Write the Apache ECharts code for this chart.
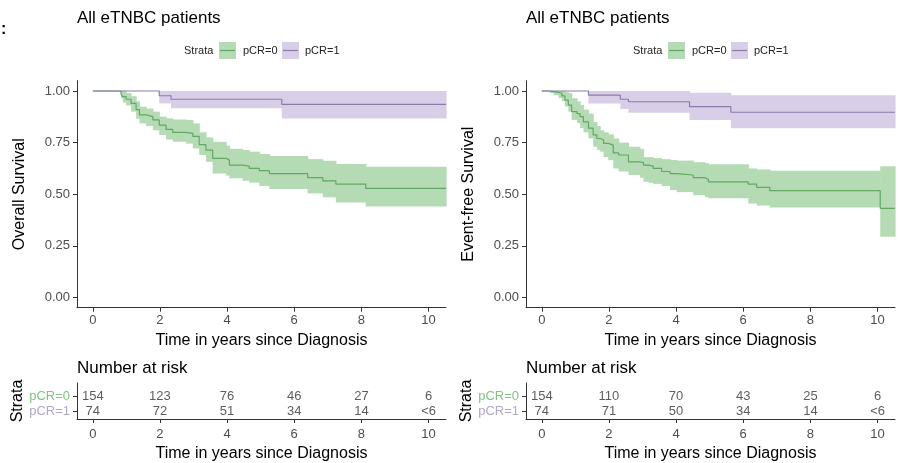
<!DOCTYPE html>
<html><head><meta charset="utf-8">
<script src="https://cdn.jsdelivr.net/npm/echarts@6/dist/echarts.min.js"></script>
<style>html,body{margin:0;padding:0;background:#fff}#c{width:900px;height:463px}</style>
</head><body><div id="c"></div>
<script>
// ---------- data ----------
const years = [0, 2, 4, 6, 8, 10];
const yTicks = [0, 0.25, 0.5, 0.75, 1];
const strata = ['pCR=0', 'pCR=1'];
const titles = ['All eTNBC patients', 'All eTNBC patients'];
const yTitles = ['Overall Survival', 'Event-free Survival'];

// Overall survival, pCR=0
const osT0  = [0, 0.84, 0.89, 0.99, 1.14, 1.29, 1.39, 1.59, 1.79, 1.98, 2.18, 2.38, 2.78, 2.98, 3.17, 3.37, 3.57, 3.97, 4.07, 4.46, 4.66, 4.96, 5.26, 6.40, 6.85, 7.24, 8.13, 10.52];
const osS0  = [1, 0.985, 0.973, 0.96, 0.94, 0.91, 0.884, 0.876, 0.86, 0.835, 0.814, 0.80, 0.795, 0.78, 0.74, 0.714, 0.674, 0.665, 0.641, 0.636, 0.625, 0.614, 0.60, 0.58, 0.565, 0.549, 0.528, 0.528];
const osLo0 = [1, 0.965, 0.945, 0.93, 0.90, 0.865, 0.843, 0.83, 0.81, 0.787, 0.765, 0.754, 0.745, 0.722, 0.69, 0.657, 0.60, 0.59, 0.577, 0.565, 0.556, 0.54, 0.525, 0.504, 0.485, 0.46, 0.44, 0.44];
const osHi0 = [1, 1, 1, 0.99, 0.975, 0.95, 0.924, 0.915, 0.90, 0.876, 0.868, 0.862, 0.86, 0.843, 0.80, 0.775, 0.754, 0.735, 0.72, 0.714, 0.706, 0.695, 0.685, 0.67, 0.662, 0.646, 0.633, 0.633];
// Overall survival, pCR=1
const osT1  = [0, 1.98, 2.33, 5.63, 10.52];
const osS1  = [1, 0.977, 0.96, 0.935, 0.935];
const osLo1 = [1, 0.94, 0.916, 0.867, 0.867];
const osHi1 = [1, 1, 1, 1, 1];
// Event-free survival, pCR=0
const efT0  = [0, 0.24, 0.35, 0.50, 0.60, 0.69, 0.79, 0.89, 1.05, 1.14, 1.24, 1.39, 1.53, 1.64, 1.74, 1.84, 1.98, 2.13, 2.29, 2.58, 2.92, 3.03, 3.18, 3.32, 3.57, 3.82, 4.02, 4.51, 4.86, 4.96, 6.15, 6.40, 6.79, 10.08, 10.52];
const efS0  = [1, 0.997, 0.993, 0.989, 0.976, 0.956, 0.932, 0.90, 0.89, 0.876, 0.85, 0.82, 0.787, 0.77, 0.763, 0.746, 0.738, 0.70, 0.69, 0.657, 0.653, 0.641, 0.636, 0.625, 0.61, 0.60, 0.593, 0.58, 0.572, 0.56, 0.549, 0.533, 0.517, 0.431, 0.431];
const efLo0 = [1, 0.99, 0.98, 0.965, 0.95, 0.925, 0.90, 0.86, 0.845, 0.82, 0.80, 0.77, 0.73, 0.715, 0.706, 0.68, 0.665, 0.625, 0.61, 0.593, 0.58, 0.56, 0.555, 0.55, 0.54, 0.52, 0.51, 0.495, 0.485, 0.48, 0.455, 0.445, 0.436, 0.294, 0.294];
const efHi0 = [1, 1, 1, 1, 1, 0.995, 0.99, 0.965, 0.95, 0.932, 0.91, 0.89, 0.85, 0.83, 0.81, 0.80, 0.79, 0.77, 0.75, 0.73, 0.72, 0.68, 0.68, 0.675, 0.67, 0.666, 0.663, 0.655, 0.65, 0.645, 0.625, 0.62, 0.614, 0.636, 0.636];
// Event-free survival, pCR=1
const efT1  = [0, 1.39, 2.34, 2.58, 4.40, 5.63, 10.52];
const efS1  = [1, 0.98, 0.96, 0.948, 0.924, 0.897, 0.897];
const efLo1 = [1, 0.94, 0.913, 0.895, 0.86, 0.82, 0.82];
const efHi1 = [1, 1, 1, 1, 0.992, 0.98, 0.98];

// Numbers at risk
const riskOs0 = ['154', '123', '76', '46', '27', '6'];
const riskOs1 = ['74', '72', '51', '34', '14', '<6'];
const riskEf0 = ['154', '110', '70', '43', '25', '6'];
const riskEf1 = ['74', '71', '50', '34', '14', '<6'];

// ---------- styling ----------
const FONT = '"Liberation Sans", Arial, sans-serif';
const GREEN = '#62a862', GREEN_BAND = '#b4dbb4', GREEN_TXT = '#80c480';
const PURPLE = '#8c7cab', PURPLE_BAND = '#d9cee7', PURPLE_TXT = '#b3a7cb';
const AXC = '#333333';
const panelLeft = [77, 526];

const curves = [
  [{t: osT0, s: osS0, lo: osLo0, hi: osHi0, line: GREEN, band: GREEN_BAND},
   {t: osT1, s: osS1, lo: osLo1, hi: osHi1, line: PURPLE, band: PURPLE_BAND}],
  [{t: efT0, s: efS0, lo: efLo0, hi: efHi0, line: GREEN, band: GREEN_BAND},
   {t: efT1, s: efS1, lo: efLo1, hi: efHi1, line: PURPLE, band: PURPLE_BAND}]
];
const risks = [[riskOs0, riskOs1], [riskEf0, riskEf1]];

const grid = [], xAxis = [], yAxis = [], series = [], title = [], graphic = [];

function xAx(gi, margin, gap) {
  return {
    type: 'value', gridIndex: gi, min: -0.47, max: 10.52,
    axisLine: {show: true, onZero: false, lineStyle: {color: AXC, width: 1}},
    axisTick: {show: true, length: 4, customValues: years, lineStyle: {color: AXC}},
    axisLabel: {customValues: years, color: '#4d4d4d', fontSize: 13, fontFamily: FONT, margin: margin},
    splitLine: {show: false},
    name: 'Time in years since Diagnosis', nameLocation: 'middle', nameGap: gap,
    nameTextStyle: {fontSize: 16, color: '#000', fontFamily: FONT}
  };
}

function bandItem(params, api) {
  const p1 = api.coord([api.value(0), api.value(3)]);
  const p2 = api.coord([api.value(1), api.value(2)]);
  return {
    type: 'rect',
    shape: {x: p1[0], y: p1[1], width: p2[0] - p1[0] + 0.6, height: Math.max(p2[1] - p1[1], 0)},
    style: {fill: api.visual('color')}
  };
}

for (let p = 0; p < 2; p++) {
  const L = panelLeft[p];
  grid.push({left: L, top: 80.7, width: 369, height: 227});
  grid.push({left: L, top: 383, width: 369, height: 40});
  const gPlot = p * 2, gTab = p * 2 + 1;

  xAxis.push(xAx(gPlot, 6, 25));
  xAxis.push(xAx(gTab, 8.5, 27));

  yAxis.push({
    type: 'value', gridIndex: gPlot, min: -0.05, max: 1.05,
    axisLine: {show: true, onZero: false, lineStyle: {color: AXC, width: 1}},
    axisTick: {show: true, length: 4, customValues: yTicks, lineStyle: {color: AXC}},
    axisLabel: {customValues: yTicks, formatter: v => v.toFixed(2), color: '#4d4d4d', fontSize: 13, fontFamily: FONT, margin: 7},
    splitLine: {show: false},
    name: yTitles[p], nameLocation: 'middle', nameGap: 49,
    nameTextStyle: {fontSize: 16, color: '#000', fontFamily: FONT}
  });
  yAxis.push({
    type: 'value', gridIndex: gTab, min: 0, max: 1,
    axisLine: {show: true, onZero: false, lineStyle: {color: AXC, width: 1}},
    axisTick: {show: true, length: 4, customValues: [0.22, 0.64], lineStyle: {color: AXC}},
    axisLabel: {
      customValues: [0.22, 0.64], margin: 7,
      formatter: v => v > 0.5 ? '{g|' + strata[0] + '}' : '{p|' + strata[1] + '}',
      rich: {
        g: {color: GREEN_TXT, fontSize: 13, fontFamily: FONT},
        p: {color: PURPLE_TXT, fontSize: 13, fontFamily: FONT}
      }
    },
    splitLine: {show: false},
    name: 'Strata', nameLocation: 'middle', nameGap: 51,
    nameTextStyle: {fontSize: 16, color: '#000', fontFamily: FONT}
  });

  const cs = curves[p];
  // confidence bands (step rectangles)
  cs.forEach(c => {
    series.push({
      type: 'custom', xAxisIndex: gPlot, yAxisIndex: gPlot, silent: true, z: 1,
      itemStyle: {color: c.band},
      renderItem: bandItem,
      encode: {x: [0, 1], y: [2, 3]},
      data: c.t.slice(0, -1).map((t, i) => [t, c.t[i + 1], c.lo[i], c.hi[i]])
    });
  });
  // survival lines
  cs.forEach((c, k) => {
    series.push({
      name: strata[k], type: 'line', xAxisIndex: gPlot, yAxisIndex: gPlot, step: 'end',
      symbol: 'none', silent: true, lineStyle: {color: c.line, width: 1.2},
      data: c.t.map((t, i) => [t, c.s[i]]), z: 3
    });
  });
  // risk table
  [0, 1].forEach(k => {
    series.push({
      type: 'scatter', xAxisIndex: gTab, yAxisIndex: gTab, symbolSize: 1, silent: true,
      itemStyle: {color: 'rgba(0,0,0,0)'},
      label: {show: true, position: 'inside', formatter: q => q.value[2], color: '#333', fontSize: 13, fontFamily: FONT},
      data: years.map((y, i) => [y, k === 0 ? 0.64 : 0.22, risks[p][k][i]])
    });
  });

  title.push({text: titles[p], left: L, top: 10, padding: 0, textStyle: {fontSize: 17, fontWeight: 'normal', color: '#000', fontFamily: FONT}});
  title.push({text: 'Number at risk', left: L, top: 359.5, padding: 0, textStyle: {fontSize: 17, fontWeight: 'normal', color: '#000', fontFamily: FONT}});

  const dx = p * 449;
  graphic.push({type: 'text', left: 184 + dx, top: 45, style: {text: 'Strata', font: '11px ' + FONT, fill: '#222'}});
  [[219, GREEN_BAND, GREEN, 243, strata[0]], [282, PURPLE_BAND, PURPLE, 305, strata[1]]].forEach(d => {
    graphic.push({type: 'rect', shape: {x: d[0] + dx, y: 42, width: 17, height: 17}, style: {fill: d[1]}});
    graphic.push({type: 'line', shape: {x1: d[0] + dx + 1, y1: 50.5, x2: d[0] + dx + 16, y2: 50.5}, style: {stroke: d[2], lineWidth: 1.2}});
    graphic.push({type: 'text', left: d[3] + dx, top: 45, style: {text: d[4], font: '11px ' + FONT, fill: '#222'}});
  });
}
graphic.push({type: 'text', left: 1, top: 22, style: {text: ':', font: 'bold 16px ' + FONT, fill: '#000'}});

const chart = echarts.init(document.getElementById('c'), null, {renderer: 'canvas'});
chart.setOption({
  animation: false,
  backgroundColor: '#fff',
  textStyle: {fontFamily: FONT},
  title, grid, xAxis, yAxis, series, graphic
});
</script></body></html>
